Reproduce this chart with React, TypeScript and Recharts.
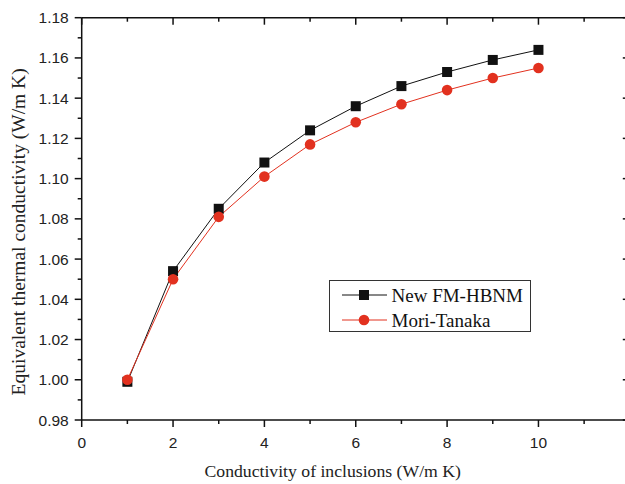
import React from 'react';
import { LineChart, Line, XAxis, YAxis, Legend } from 'recharts';

// conductivity of inclusions (W/m K)
const conductivity = [1, 2, 3, 4, 5, 6, 7, 8, 9, 10];
// equivalent thermal conductivity (W/m K)
const newFmHbnm = [0.999, 1.054, 1.085, 1.108, 1.124, 1.136, 1.146, 1.153, 1.159, 1.164];
const moriTanaka = [1.0, 1.05, 1.081, 1.101, 1.117, 1.128, 1.137, 1.144, 1.15, 1.155];

const xTicks = [0, 1, 2, 3, 4, 5, 6, 7, 8, 9, 10, 11, 12];
const xTickLabels = ['0', '2', '4', '6', '8', '10'];
const yTicks = [
  0.98, 0.99, 1.0, 1.01, 1.02, 1.03, 1.04, 1.05, 1.06, 1.07, 1.08,
  1.09, 1.1, 1.11, 1.12, 1.13, 1.14, 1.15, 1.16, 1.17, 1.18,
];
const yTickLabels = ['0.98', '1.00', '1.02', '1.04', '1.06', '1.08', '1.10', '1.12', '1.14', '1.16', '1.18'];

const data = conductivity.map((x, i) => ({ x, fm: newFmHbnm[i], mt: moriTanaka[i] }));

const BLACK = '#111';
const RED = '#e2311f';
const SANS = '"Liberation Sans", Arial, sans-serif';
const SERIF = '"Liberation Serif", "Times New Roman", serif';
const MAJOR = 7;
const MINOR = 4;
const TICK_W = 1.5;

const CHART_W = 640;
const CHART_H = 484;
const MARGIN = { top: 16.7, right: 10.2, bottom: 63, left: 80.7 };
// right frame edge sits just outside the visible 625px crop, like the source figure
const FRAME_RIGHT = CHART_W - MARGIN.right;

const isMajorX = (v: any) => xTickLabels.includes(String(v));
const isMajorY = (v: any) => yTickLabels.includes(Number(v).toFixed(2));

const BottomTick = ({ x, y, payload }: any) => {
  const major = isMajorX(payload.value);
  return (
    <g>
      <line x1={x} x2={x} y1={y} y2={y + (major ? MAJOR : MINOR)} stroke={BLACK} strokeWidth={TICK_W} />
      {major && (
        <text x={x} y={y + 28} textAnchor="middle" fontFamily={SANS} fontSize={15.5} fill="#222">
          {String(payload.value)}
        </text>
      )}
    </g>
  );
};

const TopTick = ({ x, y, payload }: any) => (
  <line x1={x} x2={x} y1={y} y2={y + (isMajorX(payload.value) ? MAJOR : MINOR)} stroke={BLACK} strokeWidth={TICK_W} />
);

// left ticks with labels, plus the mirrored inward ticks on the right frame
const LeftTick = ({ x, y, payload }: any) => {
  const major = isMajorY(payload.value);
  const len = major ? MAJOR : MINOR;
  return (
    <g>
      <line x1={x - len} x2={x} y1={y} y2={y} stroke={BLACK} strokeWidth={TICK_W} />
      <line x1={FRAME_RIGHT - len} x2={FRAME_RIGHT} y1={y} y2={y} stroke={BLACK} strokeWidth={TICK_W} />
      {major && (
        <text x={x - 13} y={y + 5.5} textAnchor="end" fontFamily={SANS} fontSize={15.5} fill="#222">
          {Number(payload.value).toFixed(2)}
        </text>
      )}
    </g>
  );
};

const SquareDot = ({ cx, cy }: any) =>
  cx == null || cy == null ? null : <rect x={cx - 5} y={cy - 5} width={10} height={10} fill={BLACK} />;

const RoundDot = ({ cx, cy }: any) =>
  cx == null || cy == null ? null : <circle cx={cx} cy={cy} r={5.3} fill={RED} />;

const LegendBox = () => (
  <svg width={202} height={52} style={{ display: 'block' }}>
    <rect x={0.5} y={0.5} width={201} height={51} fill="#fff" stroke="#333" strokeWidth={1} />
    <line x1={13} x2={58} y1={15} y2={15} stroke={BLACK} strokeWidth={1} />
    <rect x={30} y={10} width={10} height={10} fill={BLACK} />
    <text x={62.5} y={21.5} fontFamily={SERIF} fontSize={19} fill="#111">New FM-HBNM</text>
    <line x1={13} x2={58} y1={40} y2={40} stroke={RED} strokeWidth={1} />
    <circle cx={35} cy={40} r={5.3} fill={RED} />
    <text x={62.5} y={46.5} fontFamily={SERIF} fontSize={19} fill="#111">Mori-Tanaka</text>
  </svg>
);

const XTitle = ({ viewBox }: any) => (
  <text
    x={viewBox.x + viewBox.width / 2 - 23}
    y={viewBox.y + 57}
    textAnchor="middle"
    fontFamily={SERIF}
    fontSize={17.7}
    fill="#222"
  >
    Conductivity of inclusions (W/m K)
  </text>
);

const YTitle = ({ viewBox }: any) => {
  const cx = 25;
  const cy = viewBox.y + viewBox.height / 2 + 13;
  return (
    <text
      x={cx}
      y={cy}
      transform={`rotate(-90 ${cx} ${cy})`}
      textAnchor="middle"
      fontFamily={SERIF}
      fontSize={19.5}
      fill="#222"
    >
      Equivalent thermal conductivity (W/m K)
    </text>
  );
};

const axisLine = { stroke: BLACK, strokeWidth: 1.5 };

export default function App() {
  return (
    <div style={{ position: 'absolute', left: 0, top: 0, width: 625, height: 484, overflow: 'hidden', background: '#fff' }}>
      <LineChart width={CHART_W} height={CHART_H} data={data} margin={MARGIN}>
        <XAxis
          xAxisId="bottom"
          dataKey="x"
          type="number"
          domain={[0, 12]}
          ticks={xTicks}
          interval={0}
          height={1}
          tickSize={0}
          tickMargin={0}
          tickLine={false}
          tick={<BottomTick />}
          axisLine={axisLine}
          label={{ content: XTitle }}
        />
        <XAxis
          xAxisId="top"
          orientation="top"
          dataKey="x"
          type="number"
          domain={[0, 12]}
          ticks={xTicks}
          interval={0}
          height={1}
          tickSize={0}
          tickMargin={0}
          tickLine={false}
          tick={<TopTick />}
          axisLine={axisLine}
        />
        <YAxis
          yAxisId="left"
          dataKey="fm"
          type="number"
          domain={[0.98, 1.18]}
          ticks={yTicks}
          interval={0}
          width={1}
          tickSize={0}
          tickMargin={0}
          tickLine={false}
          tick={<LeftTick />}
          axisLine={axisLine}
          label={{ content: YTitle }}
        />
        <Legend
          layout="vertical"
          align="center"
          verticalAlign="middle"
          content={LegendBox}
          wrapperStyle={{ position: 'absolute', left: 329, top: 280, width: 202, height: 52 }}
        />
        <Line
          xAxisId="bottom"
          yAxisId="left"
          dataKey="fm"
          name="New FM-HBNM"
          stroke={BLACK}
          strokeWidth={1}
          dot={<SquareDot />}
          activeDot={false}
          isAnimationActive={false}
        />
        <Line
          xAxisId="bottom"
          yAxisId="left"
          dataKey="mt"
          name="Mori-Tanaka"
          stroke={RED}
          strokeWidth={1}
          dot={<RoundDot />}
          activeDot={false}
          isAnimationActive={false}
        />
      </LineChart>
    </div>
  );
}
